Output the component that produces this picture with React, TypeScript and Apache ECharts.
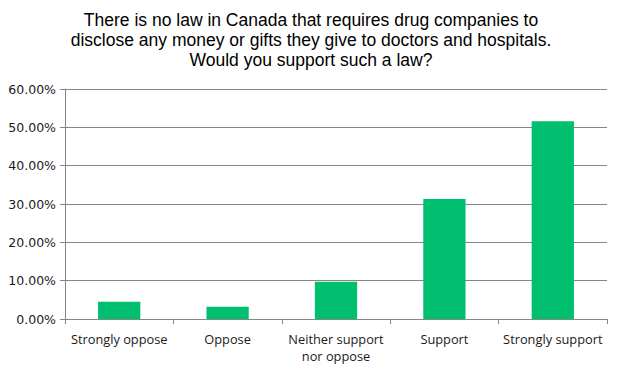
import React, { useEffect, useRef } from "react";
import * as echarts from "echarts";

const titleText =
  "There is no law in Canada that requires drug companies to\ndisclose any money or gifts they give to doctors and hospitals.\nWould you support such a law?";
const categories = [
  "Strongly oppose",
  "Oppose",
  "Neither support\nnor oppose",
  "Support",
  "Strongly support",
];
const values = [4.5, 3.2, 9.7, 31.3, 51.6];
const yTicks = { min: 0, max: 60, interval: 10 };

export default function App() {
  const ref = useRef<HTMLDivElement>(null);
  useEffect(() => {
    if (!ref.current) return;
    const chart = echarts.init(ref.current, null, { renderer: "svg" });
    chart.setOption({
      animation: false,
      backgroundColor: "#ffffff",
      title: {
        text: titleText,
        left: "center",
        top: 10,
        padding: 0,
        textStyle: {
          fontFamily: "Liberation Sans",
          fontSize: 17.5,
          fontWeight: "normal",
          color: "#000000",
          lineHeight: 20,
        },
      },
      grid: { left: 65, right: 15, top: 89, bottom: 52 },
      xAxis: {
        type: "category",
        data: categories,
        axisLine: { lineStyle: { color: "#868686", width: 1 } },
        axisTick: { show: true, length: 5, lineStyle: { color: "#868686" } },
        axisLabel: {
          interval: 0,
          margin: 11,
          fontFamily: "Open Sans",
          fontSize: 12.8,
          lineHeight: 17,
          color: "#1a1a1a",
        },
      },
      yAxis: {
        type: "value",
        min: yTicks.min,
        max: yTicks.max,
        interval: yTicks.interval,
        axisLine: { show: true, lineStyle: { color: "#868686" } },
        axisTick: { show: true, length: 5, lineStyle: { color: "#868686" } },
        splitLine: { lineStyle: { color: "#868686", width: 1 } },
        axisLabel: {
          margin: 9,
          fontFamily: "DejaVu Sans",
          fontSize: 12.5,
          color: "#1a1a1a",
          formatter: (v: number) => v.toFixed(2) + "%",
        },
      },
      series: [
        {
          type: "bar",
          data: values,
          barWidth: "39%",
          itemStyle: { color: "#00BF6F" },
        },
      ],
    });
    return () => chart.dispose();
  }, []);
  return (
    <div
      ref={ref}
      style={{ position: "absolute", left: 0, top: 0, width: 622, height: 371 }}
    />
  );
}
